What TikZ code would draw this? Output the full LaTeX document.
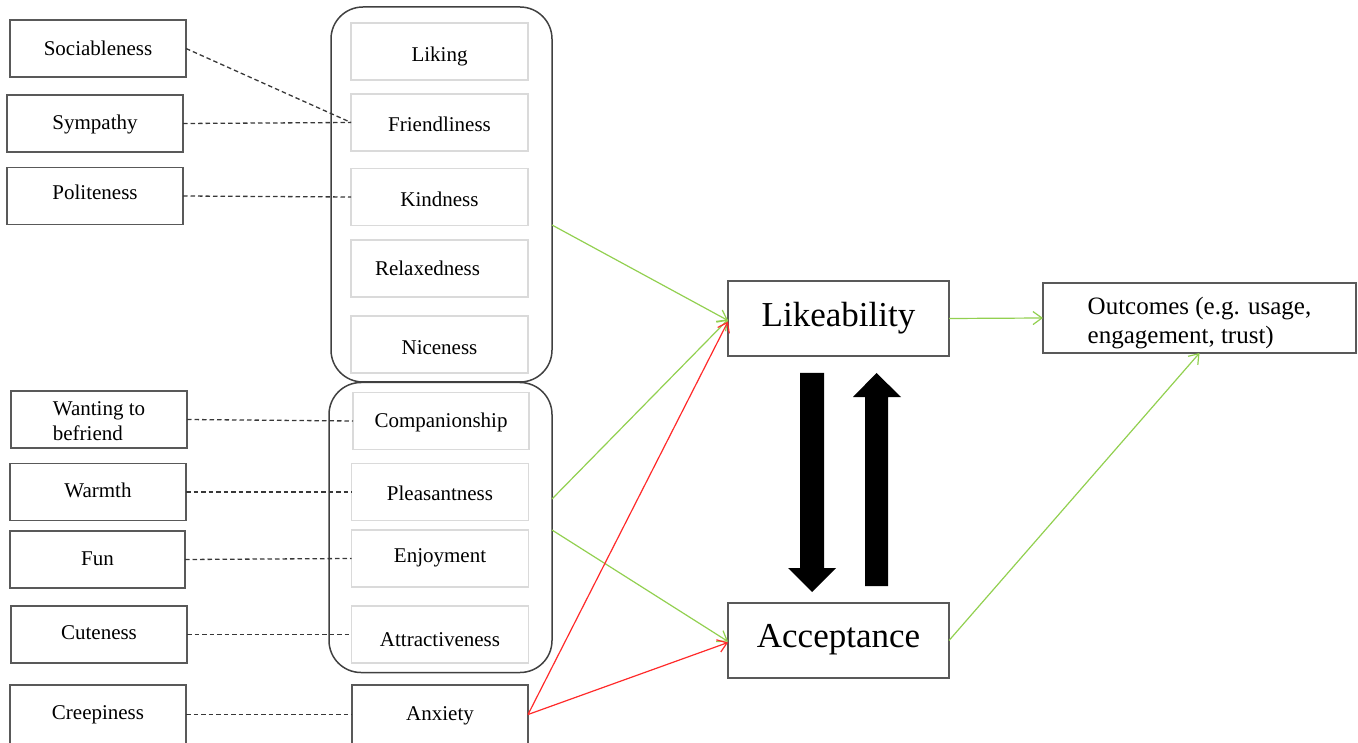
\documentclass[tikz,border=0pt]{standalone}
\usepackage{fontspec}
\setmainfont{Liberation Serif}
\usetikzlibrary{arrows.meta,calc}
\definecolor{boxgray}{HTML}{595959}
\definecolor{lightgray2}{HTML}{DADADA}
\definecolor{grpgray}{HTML}{404040}
\definecolor{dashgray}{HTML}{383838}
\definecolor{posgreen}{HTML}{92D050}
\definecolor{negred}{HTML}{FF2A2A}
\begin{document}
\begin{tikzpicture}[x=1pt,y=-1pt,
  every node/.style={inner sep=0pt, outer sep=0pt, font=\fontsize{21}{25}\selectfont},
  box/.style={draw=boxgray, line width=1.5pt, minimum width=176pt, minimum height=57pt},
  inbox/.style={draw=lightgray2, line width=1.5pt, minimum width=177pt, minimum height=57pt},
  capc/.style={text height=#1, text depth=0pt}, capc/.default=14pt,
  grp/.style={draw=grpgray, line width=1.5pt, rounded corners=32pt},
  bigbox/.style={draw=boxgray, line width=1.5pt, minimum width=221pt, minimum height=75pt, font=\fontsize{35}{40}\selectfont},
  dashlink/.style={draw=dashgray, line width=1.3pt, dash pattern=on 4.5pt off 3pt},
  posg/.style={draw=posgreen, line width=1.2pt, -{Straight Barb[length=9pt,width=13pt]}},
  negr/.style={draw=negred, line width=1.2pt, -{Straight Barb[length=9pt,width=13pt]}},
]
\useasboundingbox (0,0) rectangle (1358,743);
\clip (0,0) rectangle (1358,743);

% group frames
\node[grp, minimum width=221pt, minimum height=375pt] (grpTop) at (441.5,194.5) {};
\node[grp, minimum width=223pt, minimum height=290pt] (grpBot) at (440.5,527.5) {};

% left column
\node[box, capc=14pt] (soc) at (98,48.5) {Sociableness};
\node[box, capc=12pt] (sym) at (95,123.5) {Sympathy};
\node[box, capc=7pt] (pol) at (95,196) {Politeness};
\node[box, align=left] (want) at (99,419.5) {\rule{0pt}{18pt}Wanting to\\befriend};
\node[box, capc=10pt] (warm) at (98,492) {Warmth};
\node[box, capc=12pt, minimum width=175pt] (fun) at (97.5,559.5) {Fun};
\node[box, capc=9pt] (cute) at (99,634.5) {Cuteness};
\node[box, capc=9pt, minimum height=59pt] (creep) at (98,714.5) {Creepiness};

% middle column
\node[inbox, capc=20pt] (liking) at (439.5,51.5) {Liking};
\node[inbox, capc=19pt] (friend) at (439.5,122.5) {Friendliness};
\node[inbox, capc=20pt] (kind) at (439.5,197) {Kindness};
\node[inbox, capc=14pt] (relax) at (439.5,268.5) {\hspace*{-24pt}Relaxedness};
\node[inbox, capc=20pt] (nice) at (439.5,344.5) {Niceness};
\node[inbox, capc=14pt, minimum width=176pt] (comp) at (441,421) {Companionship};
\node[inbox, capc=16pt] (pleas) at (440,492) {Pleasantness};
\node[inbox, capc=8pt] (enjoy) at (440,558.5) {Enjoyment};
\node[inbox, capc=23pt] (attr) at (440,634.5) {Attractiveness};
\node[box, capc=11pt, minimum height=59pt] (anx) at (440,714.5) {Anxiety};

% right side
\node[bigbox, capc=16pt] (like) at (838.5,318.5) {Likeability};
\node[bigbox, capc=14pt] (acc) at (838.5,640.5) {Acceptance};
\node[draw=boxgray, line width=1.5pt, minimum width=313pt, minimum height=70pt,
      align=left, font=\fontsize{25}{29}\selectfont] (out) at (1199.5,318)
      {\rule{0pt}{26.5pt}Outcomes (e.g. usage,\\engagement, trust)};

% dashed links
\draw[dashlink] (soc.east) -- (friend.west);
\draw[dashlink] (sym.east) -- (friend.west);
\draw[dashlink] (pol.east) -- (kind.west);
\draw[dashlink] (want.east) -- (comp.west);
\draw[dashlink] (warm.east) -- (pleas.west);
\draw[dashlink] (fun.east) -- (enjoy.west);
\draw[dashlink] (cute.east) -- (attr.west);
\draw[dashlink] (creep.east) -- (anx.west);

% positive paths
\coordinate (gT) at (grpTop.east |- 0,225);
\coordinate (gB1) at (grpBot.east |- 0,499);
\coordinate (gB2) at (grpBot.east |- 0,530);
\draw[posg] (gT) -- ([yshift=-2pt]like.west);
\draw[posg] (gB1) -- ([yshift=-1pt]like.west);
\draw[posg] (gB2) -- ([yshift=-1pt]acc.west);
\draw[posg] (like.east) -- (out.west);
\draw[posg] (acc.east) -- (out.south);

% negative paths
\draw[negr] (anx.east) -- ([yshift=-3pt]like.west);
\draw[negr] (anx.east) -- ([yshift=-2pt]acc.west);

% block arrows between Likeability and Acceptance
\fill[black] (800,373) -- (824,373) -- (824,568) -- (836,568) -- (812,592) -- (788,568) -- (800,568) -- cycle;
\fill[black] (865,586) -- (888,586) -- (888,397) -- (901,397) -- (876.5,373) -- (853,397) -- (865,397) -- cycle;
\end{tikzpicture}
\end{document}
